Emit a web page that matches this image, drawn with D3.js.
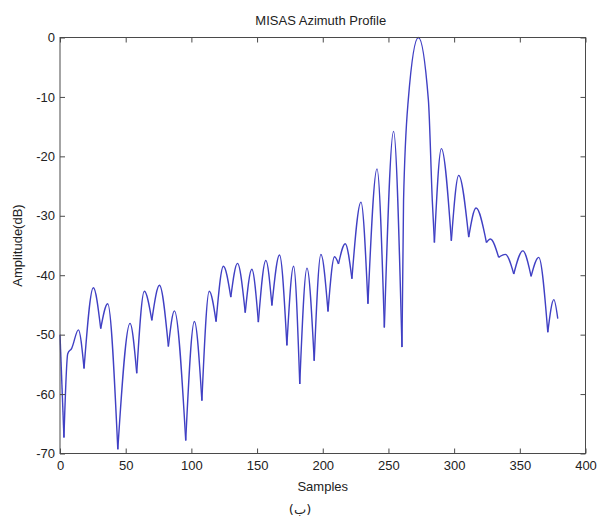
<!DOCTYPE html>
<html>
<head>
<meta charset="utf-8">
<script src="https://cdn.jsdelivr.net/npm/d3@7"></script>
<style>
  html, body { margin: 0; padding: 0; background: #fff; }
  svg { display: block; }
  text { font-family: "Liberation Sans", Arial, sans-serif; fill: #222; }
</style>
</head>
<body>
<svg id="chart" width="600" height="520"></svg>
<script>
// ---- data ----
const samples = [0, 3, 5.9, 8.9, 14, 18.3, 25.4, 31, 36.3, 44, 53.3, 58.4, 64.2, 69.9, 75.7, 82.5, 87.1, 95.7, 102.3, 108,
  113.6, 118.8, 124.4, 130, 135.1, 141, 146, 151, 156.7, 161.3, 167.1, 172.7, 177.8, 182.5, 188, 193.5, 198.6, 204, 209, 212,
  217.1, 222.2, 229.1, 234.4, 241.3, 246.9, 253.9, 260.3, 261.5, 265.1, 272.8, 280.4, 283.4, 285, 290.3, 297.9, 303.5, 311.1, 316.7, 324.6,
  327.6, 333.9, 339, 345.4, 352.3, 358.6, 364.4, 371.3, 375.9, 378.9];
const amplitude = [-50, -67.3, -53.2, -52.3, -49.2, -55.7, -42.1, -49, -44.8, -69.3, -48.1, -56.5, -42.7, -47.6, -41.7, -52, -46, -67.8, -47.8, -61.1,
  -42.7, -47.8, -38.5, -43.7, -38, -46.3, -39, -47.9, -37.5, -45.1, -36.6, -51.8, -38.5, -58.3, -38.8, -54.4, -36.5, -46.1, -36.9, -38.1,
  -34.7, -40.6, -27.7, -44.8, -22.1, -48.8, -15.8, -52.1, -27.5, -10.5, 0, -10.5, -27.5, -34.5, -18.7, -34.2, -23.2, -33.6, -28.7, -34.5,
  -33.9, -37, -36.5, -39.8, -35.9, -40.2, -37, -49.6, -44.1, -47.3];
const xTicks = [0, 50, 100, 150, 200, 250, 300, 350, 400];
const yTicks = [0, -10, -20, -30, -40, -50, -60, -70];
const titleText = "MISAS Azimuth Profile";
const xLabel = "Samples";
const yLabel = "Amplitude(dB)";
const caption = "(ب)";

// ---- layout ----
const L = 60, R = 585.5, T = 37.5, B = 453.5;
const svg = d3.select("#chart");
const x = d3.scaleLinear().domain([0, 400]).range([L, R]);
const y = d3.scaleLinear().domain([-70, 0]).range([B, T]);

// ---- line (split into lobes at nulls so nulls are cusps) ----
const pts = samples.map((s, i) => [s, amplitude[i]]);
const segs = [];
let cur = [pts[0]];
for (let i = 1; i < pts.length; i++) {
  cur.push(pts[i]);
  const isMin = i < pts.length - 1 && pts[i][1] < pts[i - 1][1] && pts[i][1] < pts[i + 1][1];
  if (isMin) { segs.push(cur); cur = [pts[i]]; }
}
if (cur.length > 1) segs.push(cur);
const line = d3.line().x(d => x(d[0])).y(d => y(d[1])).curve(d3.curveMonotoneX);
svg.append("g")
  .selectAll("path").data(segs).join("path")
  .attr("d", line)
  .attr("fill", "none")
  .attr("stroke", "#4040c4")
  .attr("stroke-width", 1.4)
  .attr("stroke-linejoin", "round");

// ---- axes (MATLAB style box, inward ticks) ----
const axColor = "#4a4a4a";
const fmt = d => String(d);
function styleAxis(g) {
  g.select(".domain").remove();
  g.selectAll(".tick line").attr("stroke", axColor);
  g.selectAll(".tick text").style("font-size", "13px").attr("fill", "#222")
    .style("font-family", '"Liberation Sans", Arial, sans-serif');
}
svg.append("g").attr("transform", `translate(0,${B})`)
  .call(d3.axisBottom(x).tickValues(xTicks).tickFormat(fmt).tickSizeInner(-5).tickSizeOuter(0).tickPadding(7))
  .call(styleAxis);
svg.append("g").attr("transform", `translate(0,${T})`)
  .call(d3.axisTop(x).tickValues(xTicks).tickFormat("").tickSizeInner(-5).tickSizeOuter(0))
  .call(styleAxis);
svg.append("g").attr("transform", `translate(${L},0)`)
  .call(d3.axisLeft(y).tickValues(yTicks).tickFormat(fmt).tickSizeInner(-5).tickSizeOuter(0).tickPadding(5))
  .call(styleAxis);
svg.append("g").attr("transform", `translate(${R},0)`)
  .call(d3.axisRight(y).tickValues(yTicks).tickFormat("").tickSizeInner(-5).tickSizeOuter(0))
  .call(styleAxis);
svg.append("rect").attr("x", L).attr("y", T).attr("width", R - L).attr("height", B - T)
  .attr("fill", "none").attr("stroke", axColor).attr("stroke-width", 1);

// ---- texts ----
svg.append("text").attr("x", (L + R) / 2 - 2).attr("y", 25).attr("text-anchor", "middle")
  .style("font-size", "13px").text(titleText);
svg.append("text").attr("x", (L + R) / 2).attr("y", 491).attr("text-anchor", "middle")
  .style("font-size", "13px").text(xLabel);
svg.append("text").attr("transform", `translate(22,${(T + B) / 2}) rotate(-90)`).attr("text-anchor", "middle")
  .style("font-size", "13px").text(yLabel);
svg.append("text").attr("x", 300).attr("y", 514).attr("text-anchor", "middle")
  .style("font-size", "13px").style("font-family", '"DejaVu Sans", "Noto Sans", sans-serif').text(caption);
</script>
</body>
</html>
